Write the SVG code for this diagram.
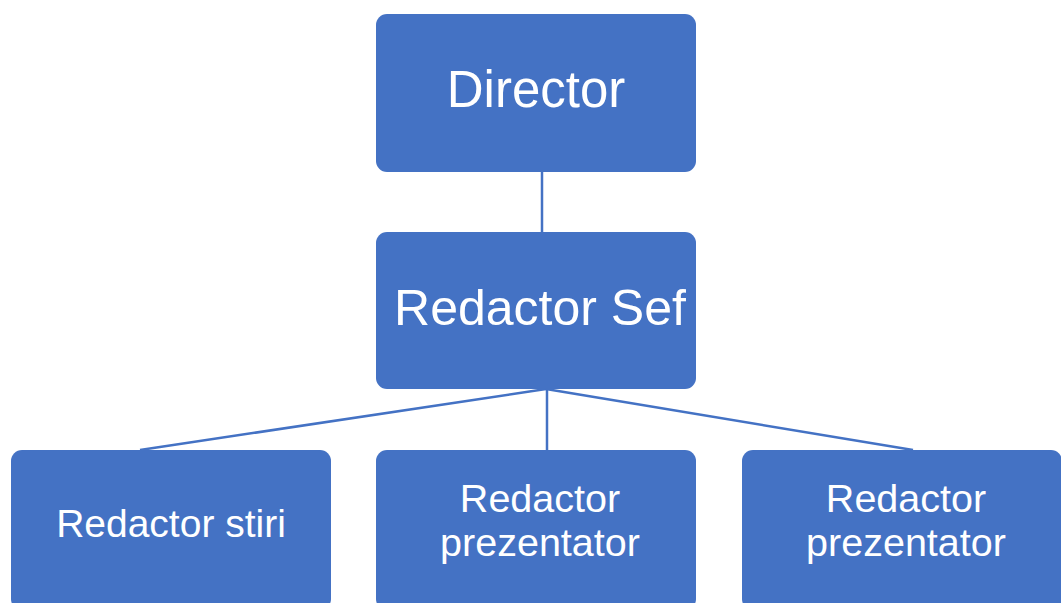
<svg xmlns="http://www.w3.org/2000/svg" width="1061" height="603" viewBox="0 0 1061 603">
  <style>
    .box { fill: #4472C4; }
    .lbl { fill: #ffffff; font-family: "Liberation Sans", Arial, sans-serif; text-anchor: middle; }
    .big { font-size: 50px; }
    .small { font-size: 39px; }
    .two { font-size: 39.5px; }
    .conn { stroke: #4472C4; stroke-width: 2.5; fill: none; }
  </style>
  <rect width="1061" height="603" fill="#ffffff"/>
  <g id="connectors">
    <line class="conn" x1="542" y1="172" x2="542" y2="232"/>
    <line class="conn" x1="546" y1="389" x2="140" y2="450"/>
    <line class="conn" x1="547" y1="389" x2="547" y2="450"/>
    <line class="conn" x1="546" y1="389" x2="913" y2="450"/>
  </g>
  <g id="director">
    <rect class="box" x="376" y="14" width="320" height="158" rx="11"/>
    <text class="lbl big" x="536" y="107" style="font-size:51px">Director</text>
  </g>
  <g id="redactor-sef">
    <rect class="box" x="376" y="232" width="320" height="157" rx="11"/>
    <text class="lbl big" x="540" y="325">Redactor Sef</text>
  </g>
  <g id="redactor-stiri">
    <rect class="box" x="11" y="450" width="320" height="160" rx="11"/>
    <text class="lbl small" x="171" y="537">Redactor stiri</text>
  </g>
  <g id="redactor-prezentator-1">
    <rect class="box" x="376" y="450" width="320" height="160" rx="11"/>
    <text class="lbl two" x="540" y="512">Redactor</text>
    <text class="lbl two" x="540" y="556">prezentator</text>
  </g>
  <g id="redactor-prezentator-2">
    <rect class="box" x="742" y="450" width="320" height="160" rx="11"/>
    <text class="lbl two" x="906" y="512">Redactor</text>
    <text class="lbl two" x="906" y="556">prezentator</text>
  </g>
</svg>
